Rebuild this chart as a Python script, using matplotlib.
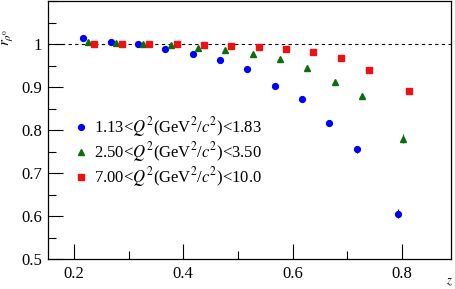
import matplotlib
matplotlib.use("Agg")
import matplotlib.pyplot as plt
from matplotlib.ticker import MultipleLocator, FixedLocator, FuncFormatter

plt.rcParams['font.family'] = ['Liberation Serif', 'DejaVu Serif']
plt.rcParams['mathtext.fontset'] = 'stix'

# --- data ---
x_low = [0.217, 0.267, 0.317, 0.367, 0.417, 0.467, 0.517, 0.567, 0.617, 0.667, 0.717, 0.792]
y_low = [1.013, 1.005, 0.999, 0.988, 0.977, 0.963, 0.942, 0.903, 0.873, 0.817, 0.756, 0.606]
e_low = [0.002, 0.002, 0.002, 0.002, 0.002, 0.003, 0.003, 0.003, 0.004, 0.005, 0.008, 0.010]

x_mid = [0.226, 0.277, 0.327, 0.377, 0.427, 0.477, 0.527, 0.577, 0.627, 0.677, 0.727, 0.802]
y_mid = [1.004, 1.002, 0.999, 0.997, 0.991, 0.987, 0.977, 0.965, 0.945, 0.911, 0.879, 0.780]
e_mid = [0.002, 0.002, 0.002, 0.002, 0.002, 0.002, 0.003, 0.003, 0.003, 0.004, 0.005, 0.010]

x_high = [0.237, 0.288, 0.338, 0.388, 0.438, 0.488, 0.538, 0.588, 0.638, 0.689, 0.739, 0.813]
y_high = [1.000, 1.000, 0.999, 0.999, 0.998, 0.996, 0.994, 0.988, 0.981, 0.967, 0.940, 0.892]
e_high = [0.002, 0.002, 0.002, 0.002, 0.002, 0.002, 0.002, 0.003, 0.003, 0.003, 0.004, 0.005]

labels = [
    r"1.13<$Q^2$(GeV$^2$/$c^2$)<1.83",
    r"2.50<$Q^2$(GeV$^2$/$c^2$)<3.50",
    r"7.00<$Q^2$(GeV$^2$/$c^2$)<10.0",
]

fig = plt.figure(figsize=(4.56, 2.89), dpi=100)
ax = fig.add_axes([0.1046, 0.1027, 0.8838, 0.8938])

# reference line at 1
ax.axhline(1.0, color='black', linestyle=(0, (3, 3)), linewidth=0.8, zorder=1)

c1 = ax.errorbar(x_low, y_low, yerr=e_low, fmt='o', color='#0000ff', ms=4.2,
                 elinewidth=0.8, capsize=0, zorder=3)
c2 = ax.errorbar(x_mid, y_mid, yerr=e_mid, fmt='^', color='#0b6e0b', ms=4.6,
                 elinewidth=0.8, capsize=0, zorder=3)
c3 = ax.errorbar(x_high, y_high, yerr=e_high, fmt='s', color='#ee1111', ms=4.6,
                 elinewidth=0.8, capsize=0, zorder=3)

ax.set_xlim(0.152, 0.889)
ax.set_ylim(0.5, 1.1)
ax.xaxis.set_major_locator(FixedLocator([0.2, 0.4, 0.6, 0.8]))
ax.xaxis.set_minor_locator(FixedLocator([0.3, 0.5, 0.7]))
ax.yaxis.set_major_locator(FixedLocator([0.5, 0.6, 0.7, 0.8, 0.9, 1.0]))
ax.yaxis.set_minor_locator(MultipleLocator(0.05))
ax.yaxis.set_major_formatter(FuncFormatter(lambda v, p: "%g" % round(v, 2)))
ax.tick_params(which='both', direction='in', labelsize=12, width=0.8)
ax.tick_params(which='major', length=11)
ax.tick_params(which='minor', length=6)
ax.tick_params(axis='x', pad=5)
ax.tick_params(axis='y', pad=4)

for s in ax.spines.values():
    s.set_linewidth(0.9)

leg = ax.legend([c1[0], c2[0], c3[0]], labels, loc='center left',
                bbox_to_anchor=(0.07, 0.415), frameon=False,
                fontsize=12, handlelength=0.6, handletextpad=0.5,
                labelspacing=0.05, borderaxespad=0, borderpad=0)

fig.text(0.016, 0.87, r"$r_{\rho^0}$", rotation=90, ha='center', va='center', fontsize=11)
fig.text(0.985, 0.025, r"$z$", ha='center', va='center', fontsize=9)

fig.savefig("out.png", dpi=100)
